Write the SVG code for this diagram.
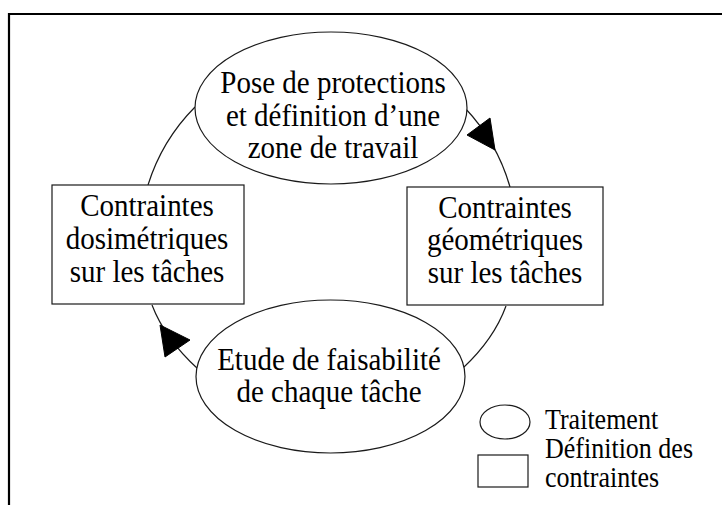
<svg xmlns="http://www.w3.org/2000/svg" width="722" height="505" viewBox="0 0 722 505">
<style>
.shape{fill:#fff;stroke:#1a1a1a;stroke-width:1.2}
.conn{fill:none;stroke:#1a1a1a;stroke-width:1.2}
.head{fill:#000;stroke:#000;stroke-width:1}
.t{font-family:"Liberation Serif","Times New Roman",serif;font-size:29px;fill:#000;text-anchor:middle}
.lg{font-family:"Liberation Serif","Times New Roman",serif;font-size:26px;fill:#000}
.frame{fill:none;stroke:#000;stroke-width:2.2}
</style>
<rect width="722" height="505" fill="#fff"/>
<path class="frame" d="M9,505 L9,14 L722,14"/>
<g id="connectors">
<path class="conn" d="M195,107 A192,192 0 0 0 148,185"/>
<path class="conn" d="M465,108 A192,192 0 0 1 510,187"/>
<path class="conn" d="M152,305 Q165,339 198,369"/>
<path class="conn" d="M506,306 Q494,339 463,368"/>
<polygon class="head" points="495,150 490,118 467,135"/>
<polygon class="head" points="160,325 165,357 190,340"/>
</g>
<g id="node-pose">
<ellipse class="shape" cx="331" cy="108" rx="136" ry="76"/>
<text class="t" transform="matrix(1 0 0 1.1 333 93)">Pose de protections</text>
<text class="t" transform="matrix(1 0 0 1.1 333 126)">et définition d’une</text>
<text class="t" transform="matrix(1 0 0 1.1 333 158)">zone de travail</text>
</g>
<g id="node-dosi">
<rect class="shape" x="52" y="185" width="192" height="119"/>
<text class="t" transform="matrix(1 0 0 1.1 147 216)">Contraintes</text>
<text class="t" transform="matrix(1 0 0 1.1 147 249)">dosimétriques</text>
<text class="t" transform="matrix(1 0 0 1.1 147 282)">sur les tâches</text>
</g>
<g id="node-geo">
<rect class="shape" x="407" y="187" width="196" height="118"/>
<text class="t" transform="matrix(1 0 0 1.1 505 218)">Contraintes</text>
<text class="t" transform="matrix(1 0 0 1.1 505 250)">géométriques</text>
<text class="t" transform="matrix(1 0 0 1.1 505 283)">sur les tâches</text>
</g>
<g id="node-etude">
<ellipse class="shape" cx="330.5" cy="376.5" rx="134.5" ry="76.5"/>
<text class="t" transform="matrix(1 0 0 1.1 329 370)">Etude de faisabilité</text>
<text class="t" transform="matrix(1 0 0 1.1 329 402)">de chaque tâche</text>
</g>
<g id="legend">
<ellipse class="shape" cx="505" cy="422" rx="25" ry="17"/>
<text class="lg" transform="matrix(1 0 0 1.1 545 429)">Traitement</text>
<rect class="shape" x="478" y="455" width="50" height="32"/>
<text class="lg" transform="matrix(1 0 0 1.1 545 458)">Définition des</text>
<text class="lg" transform="matrix(1 0 0 1.1 545 487)">contraintes</text>
</g>
</svg>
